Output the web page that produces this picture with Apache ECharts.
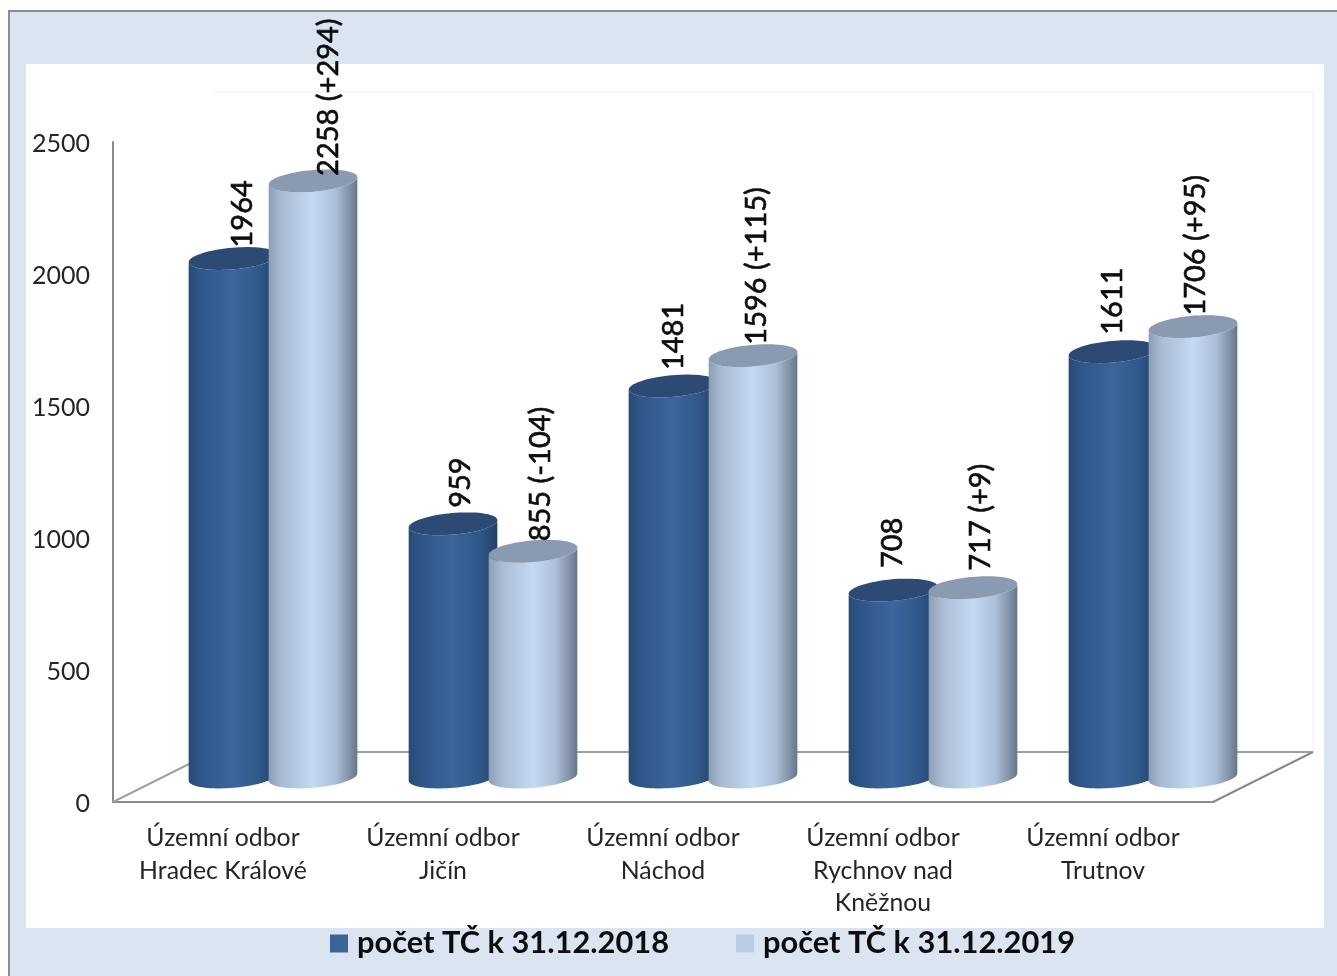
<!DOCTYPE html>
<html>
<head>
<meta charset="utf-8">
<style>html,body{margin:0;padding:0;background:#fff}#c{width:1337px;height:976px}</style>
<script src="https://cdn.jsdelivr.net/npm/echarts@6/dist/echarts.min.js"></script>
</head>
<body>
<div id="c"></div>
<script>
const categories = ['Územní odbor\nHradec Králové','Územní odbor\nJičín','Územní odbor\nNáchod','Územní odbor\nRychnov nad\nKněžnou','Územní odbor\nTrutnov'];
const seriesNames = ['počet TČ k 31.12.2018','počet TČ k 31.12.2019'];
const values2018 = [1964, 959, 1481, 708, 1611];
const values2019 = [2258, 855, 1596, 717, 1706];
const changes2019 = ['+294', '-104', '+115', '+9', '+95'];
const yTicks = {min: 0, max: 2500, interval: 500};

// hand placement of the labels in the reference, in pixels from the bar top centre
const labelNudge2018 = [[10,-11],[8,-16],[1,-16],[0,-22],[0,-17]];
const labelNudge2019 = [[16,-5],[8,-10],[4,-11],[8,-17],[3,-11]];

const FONT = 'Lato, "Noto Sans", sans-serif';
const DEPTH_X = 100, DEPTH_Y = 50;
const RX = 44.5, RY = 10.8, TILT = 5 * Math.PI / 180;

function arc(cx, cy, t0, t1, n) {
  const pts = [];
  for (let i = 0; i <= n; i++) {
    const t = t0 + (t1 - t0) * i / n;
    pts.push([
      cx + RX * Math.cos(t) * Math.cos(TILT) + RY * Math.sin(t) * Math.sin(TILT),
      cy - RX * Math.cos(t) * Math.sin(TILT) + RY * Math.sin(t) * Math.cos(TILT)
    ]);
  }
  return pts;
}
function hGrad(stops) {
  return {type:'linear', x:0, y:0, x2:1, y2:0, colorStops: stops.map((c,i)=>({offset:c[0], color:c[1]}))};
}
const darkSide = hGrad([[0,'#274a77'],[0.12,'#2e5587'],[0.5,'#3b669c'],[0.8,'#2f5788'],[1,'#224167']]);
const lightSide = hGrad([[0,'#8d9eb4'],[0.15,'#a9bcd4'],[0.5,'#c4d9f2'],[0.75,'#adc0d9'],[0.92,'#7f8fa3'],[1,'#66768a']]);

function cylinder(offsetX, side, top, nudges, textOf) {
  return function (params, api) {
    const i = api.value(0), v = api.value(1);
    const p = api.coord([i, v]), p0 = api.coord([i, 0]);
    const cx = p[0] + DEPTH_X / 2 + offsetX;
    const yTop = p[1] - DEPTH_Y / 2, yBase = p0[1] - DEPTH_Y / 2;
    const outline = arc(cx, yBase, Math.PI, 0, 40).concat(arc(cx, yTop, 0, Math.PI, 40));
    const cap = arc(cx, yTop, 0, 2 * Math.PI, 80);
    return {type:'group', children:[
      {type:'polygon', shape:{points:outline}, style:{fill:side}},
      {type:'polygon', shape:{points:cap}, style:{fill:top}},
      {type:'text', x:cx + nudges[i][0], y:yTop + nudges[i][1], rotation:Math.PI/2, z2:10,
       style:{text:textOf(i), fill:'#0d0d0d', stroke:'#0d0d0d', lineWidth:0.6, font:'29px ' + FONT, align:'left', verticalAlign:'middle'}}
    ]};
  };
}
function floor(params) {
  const g = params.coordSys, x0 = g.x, x1 = g.x + g.width, y0 = g.y + g.height, yTop = g.y;
  const line = (a,b,c,d,col,w) => ({type:'line', shape:{x1:a,y1:b,x2:c,y2:d}, style:{stroke:col, lineWidth:w}});
  return {type:'group', children:[
    line(x0+DEPTH_X, yTop-DEPTH_Y, x1+DEPTH_X, yTop-DEPTH_Y, '#f5f5f5', 1.5),
    line(x1+DEPTH_X, yTop-DEPTH_Y, x1+DEPTH_X, y0-DEPTH_Y, '#f5f5f5', 1.5),
    line(x0, y0, x0+DEPTH_X, y0-DEPTH_Y, '#a0a0a0', 2),
    line(x0+DEPTH_X, y0-DEPTH_Y, x1+DEPTH_X, y0-DEPTH_Y, '#a0a0a0', 2),
    line(x1, y0, x1+DEPTH_X, y0-DEPTH_Y, '#8a8a8a', 2)
  ]};
}

const chart = echarts.init(document.getElementById('c'), null, {renderer:'canvas'});
chart.setOption({
  animation:false,
  backgroundColor:'#ffffff',
  graphic:[
    {type:'rect', z:-10, shape:{x:9,y:11,width:1340,height:980}, style:{fill:'#dbe5f1', stroke:'#8c8c8c', lineWidth:2}},
    {type:'rect', z:-9, shape:{x:26,y:64,width:1298,height:864}, style:{fill:'#ffffff'}}
  ],
  grid:{left:113, top:142, width:1100, height:660, containLabel:false},
  legend:{
    left:325, top:923, itemWidth:18, itemHeight:18, itemGap:67, icon:'rect',
    selectedMode:false,
    data:seriesNames,
    textStyle:{fontFamily:FONT, fontSize:30.8, fontWeight:'bold', color:'#0d0d0d', padding:[0,0,0,4]}
  },
  xAxis:{
    type:'category', data:categories,
    axisLine:{show:true, lineStyle:{color:'#8a8a8a', width:2}},
    axisTick:{show:false},
    splitLine:{show:false},
    axisLabel:{interval:0, margin:20, fontFamily:FONT, fontSize:24.8, lineHeight:32.5, color:'#262626', align:'center'}
  },
  yAxis:{
    type:'value', min:yTicks.min, max:yTicks.max, interval:yTicks.interval,
    axisLine:{show:true, onZero:false, lineStyle:{color:'#8a8a8a', width:2}},
    axisTick:{show:false},
    splitLine:{show:false},
    axisLabel:{margin:23, fontFamily:FONT, fontSize:25, color:'#262626', verticalAlign:'top', lineHeight:4, formatter:v=>String(v)}
  },
  series:[
    {type:'custom', name:'floor', silent:true, z:1, data:[[0,0]], renderItem:floor, clip:false},
    {type:'custom', name:seriesNames[0], z:3, clip:false, encode:{x:0,y:1},
     itemStyle:{color:'#3b6597'},
     data:values2018.map((v,i)=>[i,v]),
     renderItem:cylinder(-40, darkSide, '#2c4a74', labelNudge2018, i=>String(values2018[i]))},
    {type:'custom', name:seriesNames[1], z:4, clip:false, encode:{x:0,y:1},
     itemStyle:{color:'#b8cce4'},
     data:values2019.map((v,i)=>[i,v]),
     renderItem:cylinder(40, lightSide, '#8a9ab0', labelNudge2019, i=>values2019[i]+' ('+changes2019[i]+')')}
  ]
});
</script>
</body>
</html>
